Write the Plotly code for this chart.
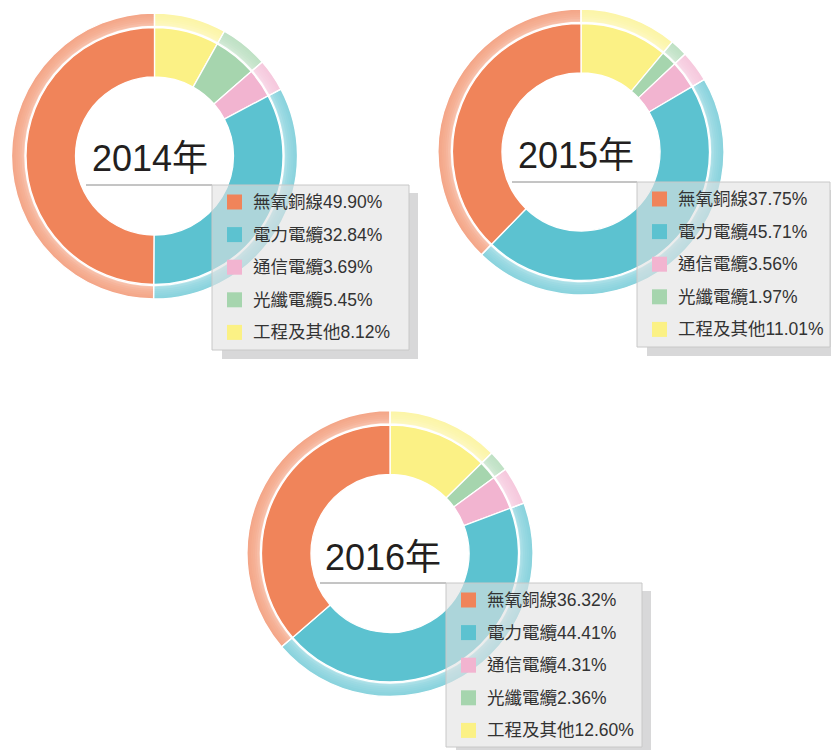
import plotly.graph_objects as go

W, H = 831, 750

# ---- data ----
categories = ["無氧銅線", "電力電纜", "通信電纜", "光纖電纜", "工程及其他"]
years = ["2014年", "2015年", "2016年"]
values_2014 = [49.90, 32.84, 3.69, 5.45, 8.12]
values_2015 = [37.75, 45.71, 3.56, 1.97, 11.01]
values_2016 = [36.32, 44.41, 4.31, 2.36, 12.60]
value_labels_2014 = ["49.90%", "32.84%", "3.69%", "5.45%", "8.12%"]
value_labels_2015 = ["37.75%", "45.71%", "3.56%", "1.97%", "11.01%"]
value_labels_2016 = ["36.32%", "44.41%", "4.31%", "2.36%", "12.60%"]

colors = ["#F0845A", "#5CC2D0", "#F2B4D0", "#A6D5AE", "#FBF185"]

series = [
    (years[0], values_2014, value_labels_2014),
    (years[1], values_2015, value_labels_2015),
    (years[2], values_2016, value_labels_2016),
]

# ---- layout geometry (pixels) ----
panels = [
    dict(cx=154.5, cy=156, title_xy=(150, 159), line_x0=86, box=(212, 185, 409, 350)),
    dict(cx=581, cy=152, title_xy=(576, 155), line_x0=512, box=(637, 182, 830, 347)),
    dict(cx=390, cy=553.5, title_xy=(383, 557), line_x0=320, box=(446, 583, 642, 747)),
]
R_OUT = 143
R_RING_IN = 129.5
R_DONUT = 128.5
R_HOLE = 79


def px(x):
    return x / W


def py(y):
    return 1 - y / H


def mix(hexc, t):
    hexc = hexc.lstrip("#")
    r, g, b = int(hexc[0:2], 16), int(hexc[2:4], 16), int(hexc[4:6], 16)
    r = round(r + (255 - r) * t)
    g = round(g + (255 - g) * t)
    b = round(b + (255 - b) * t)
    return f"rgb({r},{g},{b})"


def domain(cx, cy, r):
    return dict(x=[px(cx - r), px(cx + r)], y=[py(cy + r), py(cy - r)])


def pie(vals, cols, hole, dom, line):
    # slices run counter-clockwise from 12 o'clock: drawn clockwise in reversed order
    return go.Pie(
        values=list(reversed(vals)), labels=list(reversed(categories)),
        sort=False, direction="clockwise", rotation=0, hole=hole, domain=dom,
        marker=dict(colors=list(reversed(cols)), line=line),
        textinfo="none", hoverinfo="none", showlegend=False,
    )


FONT = "Liberation Sans, Arial, Noto Sans CJK TC, sans-serif"

fig = go.Figure()
shapes = []
annotations = []

ring_layers = [
    (143, 0.28),
    (141, 0.30),
    (139, 0.33),
    (137, 0.36),
    (135, 0.40),
    (133, 0.46),
    (131, 0.55),
]

for (title, vals, vlabels), p in zip(series, panels):
    cx, cy = p["cx"], p["cy"]
    for ro, t in ring_layers:
        fig.add_trace(pie(vals, [mix(c, t) for c in colors], R_RING_IN / ro,
                          domain(cx, cy, ro), dict(width=0)))
    fig.add_trace(pie(vals, ["rgba(0,0,0,0)"] * 5, R_RING_IN / R_OUT,
                      domain(cx, cy, R_OUT), dict(color="white", width=1.3)))
    fig.add_trace(pie(vals, colors, R_HOLE / R_DONUT,
                      domain(cx, cy, R_DONUT), dict(color="white", width=1.3)))

    tx, ty = p["title_xy"]
    annotations.append(dict(
        x=px(tx), y=py(ty), xref="paper", yref="paper", text=title, showarrow=False,
        xanchor="center", yanchor="middle",
        font=dict(family=FONT, size=36, color="#231f20"),
    ))
    bx0, by0, bx1, by1 = p["box"]
    shapes.append(dict(type="line", xref="paper", yref="paper",
                       x0=px(p["line_x0"]), x1=px(bx0), y0=py(by0), y1=py(by0),
                       line=dict(color="#8a8a8a", width=1), layer="above"))
    shapes.append(dict(type="rect", xref="paper", yref="paper",
                       x0=px(bx1), x1=px(bx1 + 9), y0=py(by0 + 8), y1=py(by1 + 9),
                       fillcolor="rgba(190,190,192,0.6)", line=dict(width=0), layer="above"))
    shapes.append(dict(type="rect", xref="paper", yref="paper",
                       x0=px(bx0 + 10), x1=px(bx1), y0=py(by1), y1=py(by1 + 9),
                       fillcolor="rgba(190,190,192,0.6)", line=dict(width=0), layer="above"))
    shapes.append(dict(type="rect", xref="paper", yref="paper",
                       x0=px(bx0), x1=px(bx1), y0=py(by1), y1=py(by0),
                       fillcolor="rgba(225,225,225,0.6)",
                       line=dict(color="#c8c8c8", width=1), layer="above"))
    for i, (cat, vl, col) in enumerate(zip(categories, vlabels, colors)):
        ry = by0 + 17 + i * 32.6
        sx0 = bx0 + 15
        shapes.append(dict(type="rect", xref="paper", yref="paper",
                           x0=px(sx0), x1=px(sx0 + 15), y0=py(ry + 7.5), y1=py(ry - 7.5),
                           fillcolor=col, line=dict(width=0), layer="above"))
        annotations.append(dict(
            x=px(sx0 + 24), y=py(ry), xref="paper", yref="paper",
            text=cat + vl, showarrow=False, xanchor="left", yanchor="middle",
            font=dict(family=FONT, size=17.5, color="#333333"),
        ))

fig.update_layout(
    width=W, height=H, autosize=False,
    margin=dict(l=0, r=0, t=0, b=0),
    paper_bgcolor="white", plot_bgcolor="white",
    shapes=shapes, annotations=annotations,
    showlegend=False,
)

fig.write_html("out.html")
